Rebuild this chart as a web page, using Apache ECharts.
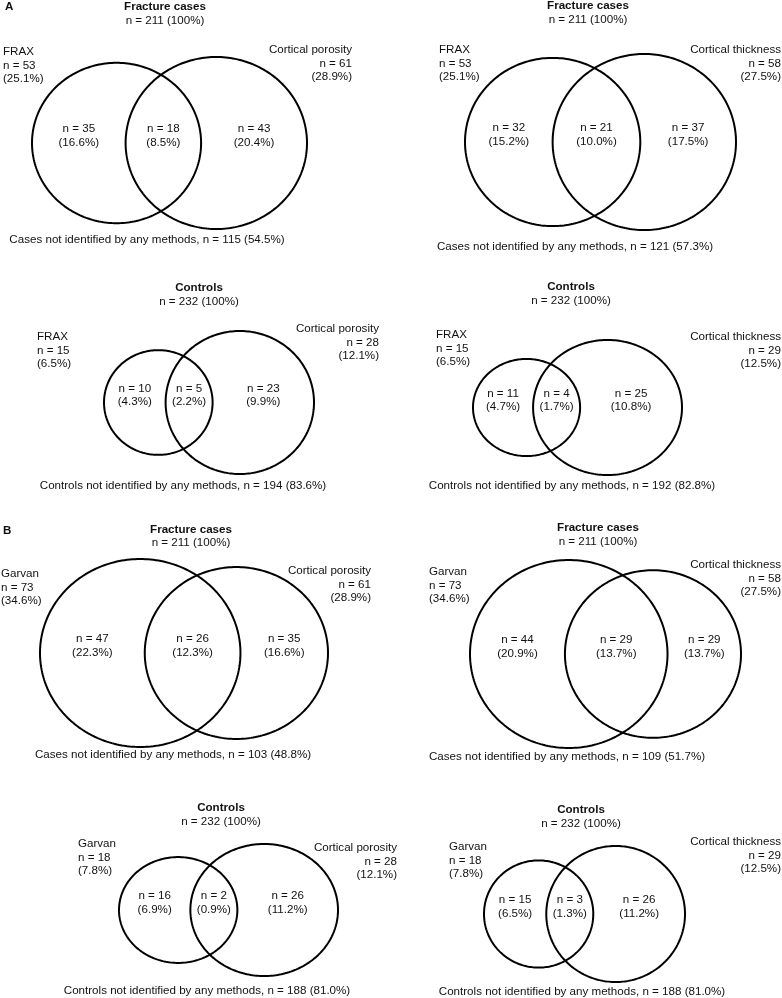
<!DOCTYPE html>
<html>
<head>
<meta charset="utf-8">
<script src="https://cdn.jsdelivr.net/npm/echarts@6.0.0/dist/echarts.min.js"></script>
<style>
html,body{margin:0;padding:0;background:#fff;}
#chart{width:782px;height:998px;}
</style>
</head>
<body>
<div id="chart"></div>
<script>
// ---------------- DATA ----------------
const panelTitles = ['Fracture cases','Fracture cases','Controls','Controls','Fracture cases','Fracture cases','Controls','Controls'];
const groupTotals = [211,211,232,232,211,211,232,232];
const footerPrefix = ['Cases','Cases','Controls','Controls','Cases','Cases','Controls','Controls'];
const leftNames = ['FRAX','FRAX','FRAX','FRAX','Garvan','Garvan','Garvan','Garvan'];
const rightNames = ['Cortical porosity','Cortical thickness','Cortical porosity','Cortical thickness','Cortical porosity','Cortical thickness','Cortical porosity','Cortical thickness'];
const leftTotals = [53,53,15,15,73,73,18,18];
const rightTotals = [61,58,28,29,61,58,28,29];
const leftOnly = [35,32,10,11,47,44,16,15];
const both = [18,21,5,4,26,29,2,3];
const rightOnly = [43,37,23,25,35,29,26,26];
const neither = [115,121,194,192,103,109,188,188];
const panelLetters = ['A','B'];

// ---------------- LAYOUT (pixels) ----------------
const gridBoxes = [ // left, top, width, height of the circle pair
  [32,57,275,172],[465,54,271,176],
  [104,331,210,143],[473,340,209,135],
  [40,559,288,188],[470,560,271,188],
  [119,844,219,132],[484,846,201,136]
];
const titlePos = [ // centre x, title y, n-line y
  [165,7,21],[588,6,20],[199,288,302],[571,287,301],
  [191,530,543],[598,528,542],[221,808,822],[581,810,824]
];
const leftLabelPos = [[3,52],[439,50],[37,337],[436,335],[1,574],[429,572],[78,844],[449,847]];
const rightLabelPos = [[352,50],[781,50],[379,329],[781,337],[371,571],[781,565],[397,848],[781,842]];
const footerPos = [[147,240],[575,247],[183,486],[572,486],[173,755],[567,757],[207,991],[582,992]];
const letterPos = [[5,7],[3,531]];
const MIN_OVERLAP_PX = 47; // room for the intersection label

const FONT = "'Liberation Sans', Arial, Helvetica, sans-serif";
const FS = 11.6;
const LH = 13.5;
const TXT = '#111';

function pct(n, t){ return (n / t * 100).toFixed(1); }
function lens(r1, r2, d){
  if (d >= r1 + r2) return 0;
  if (d <= Math.abs(r1 - r2)) return Math.PI * Math.min(r1, r2) ** 2;
  const a1 = Math.acos((d*d + r1*r1 - r2*r2) / (2*d*r1));
  const a2 = Math.acos((d*d + r2*r2 - r1*r1) / (2*d*r2));
  return r1*r1*a1 + r2*r2*a2 - 0.5*Math.sqrt((-d+r1+r2)*(d+r1-r2)*(d-r1+r2)*(d+r1+r2));
}
function solveD(r1, r2, area){
  let lo = Math.abs(r1 - r2), hi = r1 + r2;
  for (let k = 0; k < 100; k++){
    const mid = (lo + hi) / 2;
    if (lens(r1, r2, mid) > area) lo = mid; else hi = mid;
  }
  return (lo + hi) / 2;
}

const grid = [], xAxis = [], yAxis = [], series = [], graphics = [];

function txt(x, y, text, align, bold){
  graphics.push({
    type: 'text', x: x, y: y, silent: true,
    style: {
      text: text, fill: TXT,
      font: (bold ? 'bold ' : '') + FS + 'px ' + FONT,
      textAlign: align, align: align,
      textVerticalAlign: 'middle', verticalAlign: 'middle',
      lineHeight: LH
    }
  });
}

for (let i = 0; i < 8; i++){
  const r1 = Math.sqrt(leftTotals[i] / Math.PI);
  const r2 = Math.sqrt(rightTotals[i] / Math.PI);
  const g = gridBoxes[i];
  const S = r1 + r2;
  // area-proportional distance, capped so the lens is wide enough for its label
  const d = Math.min(solveD(r1, r2, both[i]), S * (g[2] - MIN_OVERLAP_PX) / (g[2] + MIN_OVERLAP_PX));
  const rmax = Math.max(r1, r2);
  grid.push({left: g[0], top: g[1], width: g[2], height: g[3], containLabel: false});
  xAxis.push({type: 'value', gridIndex: i, min: -r1, max: d + r2, show: false});
  yAxis.push({type: 'value', gridIndex: i, min: -rmax, max: rmax, show: false});

  series.push({
    type: 'custom', xAxisIndex: i, yAxisIndex: i, silent: true, clip: false,
    data: [[0, 0, r1], [d, 0, r2]],
    renderItem: function(params, api){
      const cx = api.value(0), cy = api.value(1), r = api.value(2);
      const pts = [];
      for (let k = 0; k < 240; k++){
        const t = k / 240 * Math.PI * 2;
        pts.push(api.coord([cx + r * Math.cos(t), cy + r * Math.sin(t)]));
      }
      return {type: 'polygon', shape: {points: pts},
        style: {fill: 'none', stroke: '#000', lineWidth: 2}};
    }
  });

  const t = groupTotals[i];
  const regionX = [(-r1 + (d - r2)) / 2, ((d - r2) + r1) / 2, (r1 + d + r2) / 2];
  const regionN = [leftOnly[i], both[i], rightOnly[i]];
  series.push({
    type: 'custom', xAxisIndex: i, yAxisIndex: i, silent: true, clip: false,
    data: regionX.map((x, k) => [x, 0, regionN[k]]),
    renderItem: function(params, api){
      const p = api.coord([api.value(0), api.value(1)]);
      const n = api.value(2);
      return {type: 'text', x: p[0], y: p[1] - 7,
        style: {text: 'n = ' + n + '\n(' + pct(n, t) + '%)', fill: TXT,
          font: FS + 'px ' + FONT, textAlign: 'center', align: 'center',
          textVerticalAlign: 'middle', verticalAlign: 'middle', lineHeight: LH}};
    }
  });

  const tp = titlePos[i];
  txt(tp[0], tp[1], panelTitles[i], 'center', true);
  txt(tp[0], tp[2], 'n = ' + t + ' (100%)', 'center', false);
  const lp = leftLabelPos[i];
  txt(lp[0], lp[1] + LH, leftNames[i] + '\nn = ' + leftTotals[i] + '\n(' + pct(leftTotals[i], t) + '%)', 'left', false);
  const rp = rightLabelPos[i];
  txt(rp[0], rp[1] + LH, rightNames[i] + '\nn = ' + rightTotals[i] + '\n(' + pct(rightTotals[i], t) + '%)', 'right', false);
  const fp = footerPos[i];
  txt(fp[0], fp[1], footerPrefix[i] + ' not identified by any methods, n = ' + neither[i] + ' (' + pct(neither[i], t) + '%)', 'center', false);
}
panelLetters.forEach((L, k) => txt(letterPos[k][0], letterPos[k][1], L, 'left', true));

const chart = echarts.init(document.getElementById('chart'), null, {renderer: 'canvas'});
chart.setOption({
  animation: false,
  backgroundColor: '#fff',
  grid: grid, xAxis: xAxis, yAxis: yAxis, series: series,
  graphic: {elements: graphics}
});
</script>
</body>
</html>
